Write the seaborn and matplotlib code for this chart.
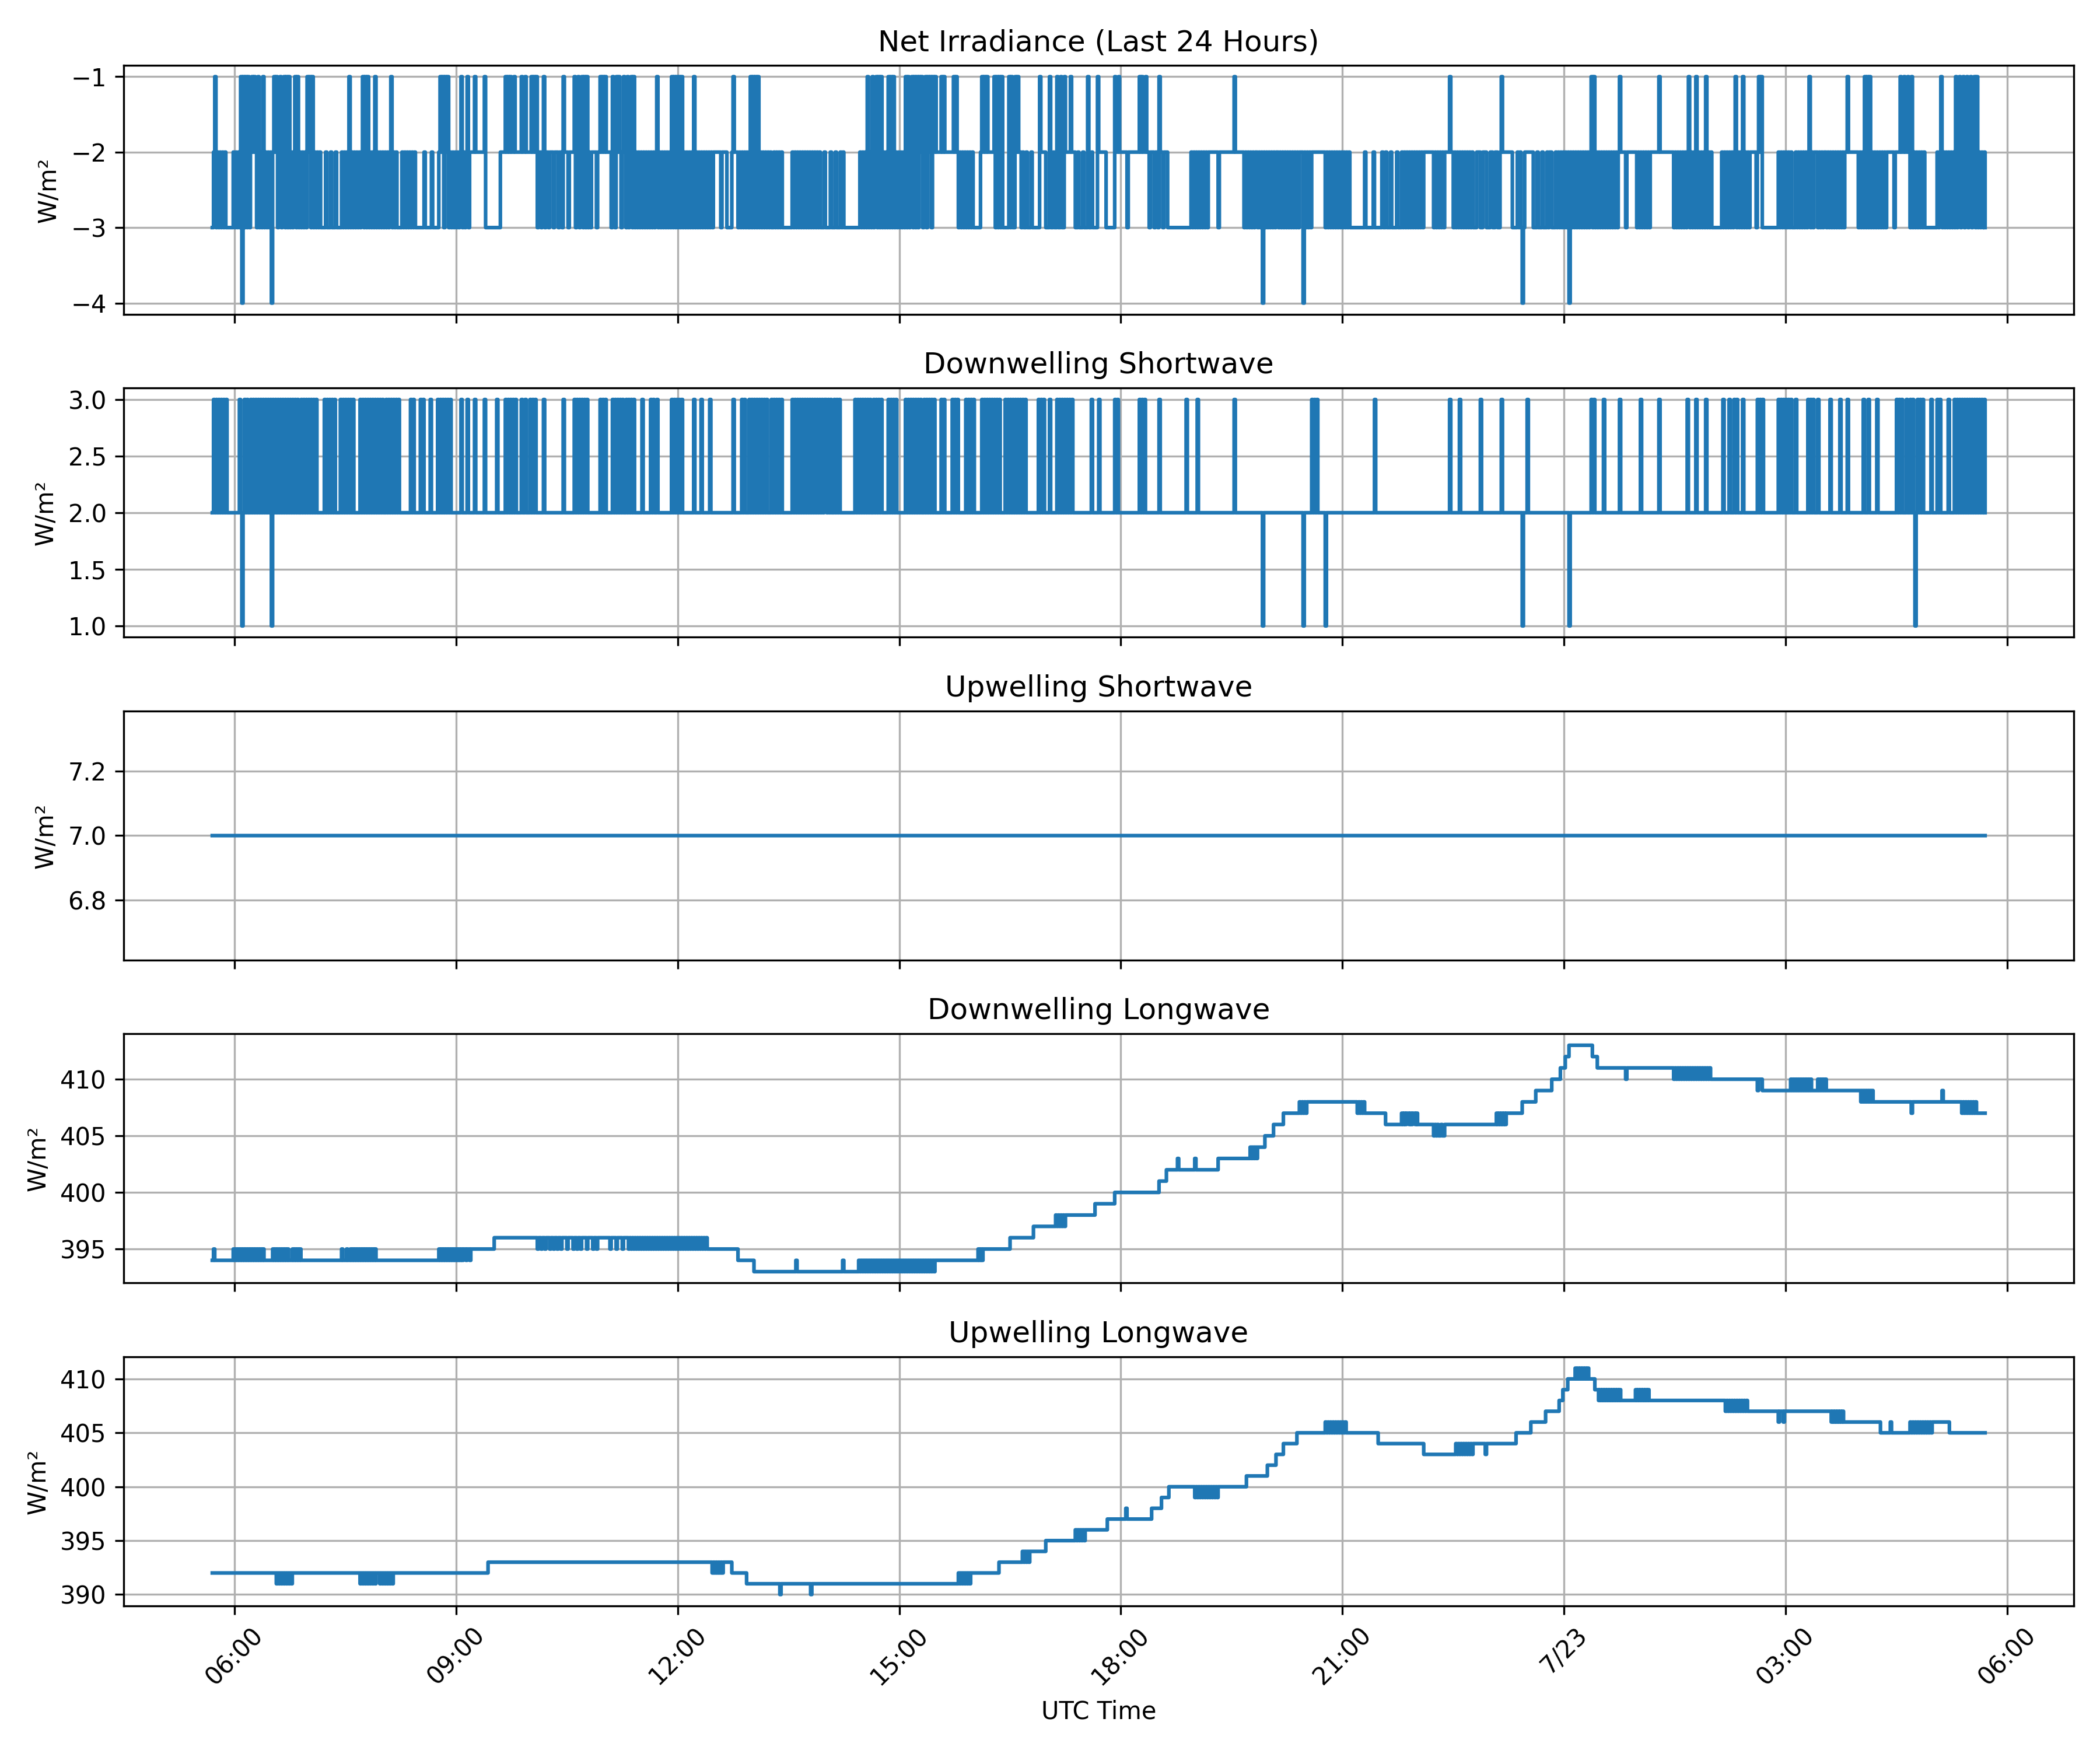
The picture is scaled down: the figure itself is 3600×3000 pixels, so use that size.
import numpy as np
import pandas as pd
import seaborn as sns
import matplotlib
matplotlib.use("Agg")
import matplotlib.pyplot as plt
import matplotlib.dates as mdates
from matplotlib.ticker import FuncFormatter

# one reading per minute, record starts 2025-07-22 05:42 UTC.
# one row per clock hour: first row starts at 05:42, the others on the hour.
start_time = "2025-07-22 05:42"

# net irradiance, digit = magnitude (values are negative)
net_rows = [
    "321323232323333332",
    "323231413131321 212313231323232 421213213213131 323213132323231",
    "213132323233332 333233323333232 323132323232321 313132323132323",
    "232323213232333 323232323232333 333323333323333 321213121323232",
    "323213232132222 122222221333333 333333222212121 221222221221222",
    "212121322321322 322232223223122 232222132132131 313232222322121",
    "212222312312123 212313213132323 232323232323213 232323232313131",
    "313132323232313 232323232323232 222223222233332 122232323232331",
    "313131323232323 233232323233333 333232323232323 232323232323332",
    "333323332333232 333333333333323 232313231321313 132323131313232",
    "323231313213131 312132131213121 222212122222221 212323232323232",
    "333333212121222 221313131333331 313312122323323 332333333122223",
    "331332331331331 222212223323332 333133233331222 222333333312212",
    "222223222222222 121221223222322 312232223333333 333333333333232",
    "323232323232222 222232222222222 221222222232323 232322323242323",
    "232323223232323 232323232322242 323232222222222 232323232323232",
    "323232333333333 333233333323333 332332333233332 333232323232323",
    "232323222222223 232323232222122 323232323232323 233322233222333",
    "223322332122222 222333323234322 222223332333233 323223332323232",
    "323242323232323 232323213132323 232323232323232 122223222222223",
    "232323232322222 221222222222223 232323232321323 231323232313232",
    "333333332323232 323213232313232 322222321213333 333333333232323",
    "232323332323232 323213232223232 322323232323232 323221222222223",
    "232313131323232 323232322222232 222122122123132 323232323333333",
    "333232132323232 323132132132132 1321313232323",
]

sw_down_rows = [
    "232323232323222222",
    "222232123232232 323232323232323 132323232323232 323232322323232",
    "323232322222232 323232322223232 323232322222323 232323232323232",
    "322323232323232 222222223232222 232322222322222 323232323232222",
    "222232222322222 322222223222222 222322222232323 232322223223222",
    "323232222223222 222222222222322 222222323232323 232222222222323",
    "232222232323232 322323232322222 232222223232232 222222222232323",
    "232322222222232 222232222223222 222222222222222 322222232322232",
    "323232323232322 232323232322222 222323232323232 323232323232323",
    "323232232323222 222222222323232 323232322323232 322222323232322",
    "222223232323232 323223232323232 222232322222232 323222222323232",
    "322222232323232 323232322223232 323232323232322 222222223232322",
    "223222223232323 232323222222222 222222322222322 222222222232322",
    "222222222222222 323232222222222 232222222222222 222222223222222",
    "223222222222222 222222222222222 223222222222222 222222222212222",
    "222222222222222 222222222222212 222223232322222 212222222222222",
    "222222222222222 222222222223222 222222222222222 222222222222222",
    "222222222222222 222222222222322 222223222222222 222222232222222",
    "222222222322222 222222222221222 322222222222222 222222222222222",
    "222212222222222 222222232322222 223222222222222 322222222222222",
    "223222222222222 223222222222222 222222222232222 223222222232222",
    "222222222322223 222323222232222 222222232323222 222222222323232",
    "323232223222222 222323232223222 222222322222223 222223222222222",
    "222322232222223 222222222222222 323232223223232 123232322222232",
    "222323222222322 223232323232323 2323232323232",
]

sw_up_value = 7

# longwave: base-36 character = offset from 390 W/m2 (a=400, k=410 ...)
lw_base = 390
lw_down_rows = [
    "45444 44444 44444 445",
    "45454 54545 45454 54545 45454 44444 45454 54545 45454 44545 45454 44444",
    "44444 44444 44444 44444 44444 44544 45445 45454 54545 45454 54545 44444",
    "44444 44444 44444 44444 44444 44444 44444 44444 44444 45454 54545 45454",
    "54545 45545 54555 55555 55555 55555 56666 66666 66666 66666 66666 66666",
    "66666 65665 66566 65665 66566 56666 56666 56656 65666 65666 65665 66666",
    "66666 56666 56666 56666 56565 65656 56565 65656 56565 65656 56565 65656",
    "56565 65656 56565 65656 56565 55555 55555 55555 55555 55554 44444 44444",
    "44333 33333 33333 33333 33333 33333 33333 34333 33333 33333 33333 33333",
    "33333 33333 33334 33333 33333 33434 34343 43434 34343 43434 34343 43434",
    "34343 43434 34343 43434 34343 43434 44444 44444 44444 44444 44444 44444",
    "44445 45455 55555 55555 55555 55555 66666 66666 66666 66667 77777 77777",
    "77777 77878 78787 88888 88888 88888 88888 88889 99999 99999 99999 aaaaa",
    "aaaaa aaaaa aaaaa aaaaa aaaaa aaaaa abbbb bbccc ccccc cdccc ccccc ccccc",
    "dcccc ccccc ccccc ccccd ddddd ddddd ddddd ddddd ddddd edede deeee eefff",
    "ffffg ggggg gghhh hhhhh hhhhh ihihi hiiii iiiii iiiii iiiii iiiii iiiii",
    "iiiii iiiii iihih ihihh hhhhh hhhhh hhhhh ggggg ggggg ggghg hghhg hghhg",
    "hgggg ggggg ggggf gfgff gffgg ggggg ggggg ggggg ggggg ggggg ggggg ggggg",
    "ggggg hghgh ghghh hhhhh hhhhh hiiii iiiii iijjj jjjjj jjjjj kkkkk kklll",
    "lmmmn nnnnn nnnnn nnnnn nnnmm mmlll lllll lllll lllll lllll kllll lllll",
    "lllll lllll lllll lllll lllll llllk lklkl klklk lklkl klklk lklkl klklk",
    "kkkkk kkkkk kkkkk kkkkk kkkkk kkkkk kkkkk kkjkk kjjjj jjjjj jjjjj jjjjj",
    "jjjjk jkjkj kjkjk jkjkj kjjjj jkjkj kjkjj jjjjj jjjjj jjjjj jjjjj jjjjj",
    "jijij ijiji jiiii iiiii iiiii iiiii iiiii iiiii iihii iiiii iiiii iiiii",
    "iiiii iijii iiiii iiiii iiihi hihih ihihi hhhhh hhh",
]

lw_up_rows = [
    "22222 22222 22222 222",
    "22222 22222 22222 22222 22222 22222 22221 21212 12121 21222 22222 22222",
    "22222 22222 22222 22222 22222 22222 22222 22222 22121 21212 12121 22212",
    "12121 21212 22222 22222 22222 22222 22222 22222 22222 22222 22222 22222",
    "22222 22222 22222 22222 22222 23333 33333 33333 33333 33333 33333 33333",
    "33333 33333 33333 33333 33333 33333 33333 33333 33333 33333 33333 33333",
    "33333 33333 33333 33333 33333 33333 33333 33333 33333 33333 33333 33333",
    "33333 33333 33333 33333 33333 33323 23232 32333 33332 22222 22222 21111",
    "11111 11111 11111 11111 11101 11111 11111 11111 11111 11101 11111 11111",
    "11111 11111 11111 11111 11111 11111 11111 11111 11111 11111 11111 11111",
    "11111 11111 11111 11111 11111 11111 11111 11111 11111 11121 21212 12122",
    "22222 22222 22222 22222 23333 33333 33333 33333 43434 34444 44444 44445",
    "55555 55555 55555 55555 55565 65656 56666 66666 66666 66667 77777 77777",
    "77778 77777 77777 77777 77777 88888 88899 9999a aaaaa aaaaa aaaaa aaaaa",
    "9a9a9 a9a9a 9a9a9 a9a9a aaaaa aaaaa aaaaa aaaaa aabbb bbbbb bbbbb bbbbc",
    "ccccc cdddd ddeee eeeee eeeff fffff fffff fffff fffff fgfgf gfgfg fgfgf",
    "gfgff fffff fffff fffff fffff ffffe eeeee eeeee eeeee eeeee eeeee eeeee",
    "eeeee edddd ddddd ddddd ddddd ddddd ddede deded edede deeee eeeee edeee",
    "eeeee eeeee eeeee eeeee effff fffff fffgg ggggg ggggg hhhhh hhhhh hiiij",
    "jjjkk kkkkl klklk lklkl kkkkk jjjij ijiji jijij ijiji jiiii iiiii iiiji",
    "jijij ijiji iiiii iiiii iiiii iiiii iiiii iiiii iiiii iiiii iiiii iiiii",
    "iiiii iiiii ihihi hihih ihihi hihih hhhhh hhhhh hhhhh hhhhh hhhhg hhhgh",
    "hhhhh hhhhh hhhhh hhhhh hhhhh hhhhh hhhhh hhghg hghgh ghggg ggggg ggggg",
    "ggggg ggggg ggggg ggfff fffff gffff fffff fffff fgfgf gfgfg fgfgf gfgfg",
    "ggggg ggggg gggff fffff fffff fffff fffff fffff fff",
]


def build(rows, base=0, sign=1):
    t0 = pd.Timestamp(start_time)
    hour0 = t0.floor("h")
    times, vals = [], []
    for k, row in enumerate(rows):
        chars = row.replace(" ", "")
        row_start = t0 if k == 0 else hour0 + pd.Timedelta(hours=k)
        for i, c in enumerate(chars):
            times.append(row_start + pd.Timedelta(minutes=i))
            vals.append(base + sign * int(c, 36))
    return pd.DataFrame({"time": times, "value": np.array(vals, dtype=float)})


net = build(net_rows, sign=-1)
sw_down = build(sw_down_rows)
sw_up = pd.DataFrame({"time": sw_down["time"],
                      "value": np.full(len(sw_down), float(sw_up_value))})
lw_down = build(lw_down_rows, base=lw_base)
lw_up = build(lw_up_rows, base=lw_base)

panels = [
    (net, "Net Irradiance (Last 24 Hours)"),
    (sw_down, "Downwelling Shortwave"),
    (sw_up, "Upwelling Shortwave"),
    (lw_down, "Downwelling Longwave"),
    (lw_up, "Upwelling Longwave"),
]


def fmt_time(x, pos=None):
    t = mdates.num2date(x)
    if t.hour == 0 and t.minute == 0:
        return f"{t.month}/{t.day}"
    return t.strftime("%H:%M")


fig, axes = plt.subplots(5, 1, figsize=(12, 10), sharex=True)

for ax, (df, title) in zip(axes, panels):
    sns.lineplot(data=df, x="time", y="value", ax=ax, color="#1f77b4",
                 linewidth=1.5, drawstyle="steps-post", estimator=None)
    ax.set_title(title)
    ax.set_ylabel("W/m²")
    ax.set_xlabel("")
    ax.grid(True)

axes[-1].xaxis.set_major_locator(mdates.HourLocator(byhour=range(0, 24, 3)))
axes[-1].xaxis.set_major_formatter(FuncFormatter(fmt_time))
axes[-1].tick_params(axis="x", labelrotation=45)
axes[-1].set_xlabel("UTC Time")

plt.tight_layout()
plt.savefig("out.png", dpi=300)
